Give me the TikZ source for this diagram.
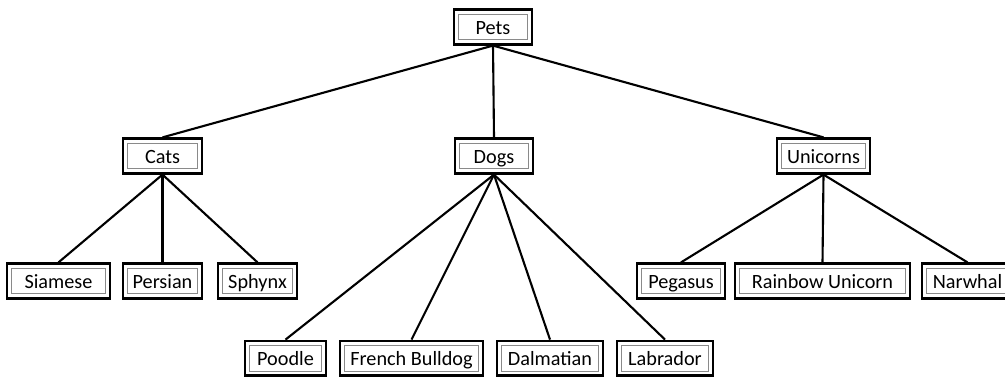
\documentclass[tikz,border=0pt]{standalone}
\usepackage{fontspec}
\setmainfont{Carlito}
\usetikzlibrary{positioning}
\definecolor{cInk}{HTML}{000000}
\definecolor{cRule}{HTML}{8A8A8A}
\tikzset{
  base/.style={rectangle, draw=cInk, line width=2pt, fill=white, align=center,
               font=\fontsize{14.4}{17}\selectfont, text=cInk, inner xsep=0pt,
               inner ysep=0pt, text height=0.43cm, text depth=0.05cm, minimum height=0.86cm,
               path picture={\draw[cRule, line width=0.7pt]
                 ([shift={(3pt,3pt)}]path picture bounding box.south west) rectangle
                 ([shift={(-3pt,-3pt)}]path picture bounding box.north east);}},
  link/.style={line width=1.5pt, draw=cInk},
}

\begin{document}
\begin{tikzpicture}[x=1cm, y=1cm]
  \useasboundingbox (0,0) rectangle (25.125,9.475);
  \clip (0,0) rectangle (25.125,9.475);
  % ---- root
  \node[base, minimum width=1.95cm] (pets) at (12.325,8.80) {Pets};

  % ---- groups
  \node[base, minimum width=1.975cm] (cats) at (4.0625,5.575) {Cats};
  \node[base, minimum width=1.95cm] (dogs) at (12.35,5.575) {Dogs};
  \node[base, minimum width=2.325cm] (unicorns) at (20.5875,5.575) {Unicorns};

  % ---- breeds
  \node[base, minimum width=2.575cm] (siamese) at (1.4625,2.45) {Siamese};
  \node[base, minimum width=1.975cm] (persian) at (4.0625,2.45) {Persian};
  \node[base, minimum width=1.975cm] (sphynx) at (6.4375,2.45) {Sphynx};
  \node[base, minimum width=2.2cm] (pegasus) at (17.025,2.45) {Pegasus};
  \node[base, minimum width=4.375cm] (rainbow) at (20.5625,2.45) {Rainbow Unicorn};
  \node[base, minimum width=2.275cm] (narwhal) at (24.1875,2.45) {Narwhal};
  \node[base, minimum width=2.025cm] (poodle) at (7.1375,0.52) {Poodle};
  \node[base, minimum width=3.575cm] (bulldog) at (10.2875,0.52) {French Bulldog};
  \node[base, minimum width=2.65cm] (dalmatian) at (13.75,0.52) {Dalmatian};
  \node[base, minimum width=2.4cm] (labrador) at (16.625,0.52) {Labrador};

  % ---- links
  \foreach \p/\c in {pets/cats, pets/dogs, pets/unicorns,
                     cats/siamese, cats/persian, cats/sphynx,
                     dogs/poodle, dogs/bulldog, dogs/dalmatian, dogs/labrador,
                     unicorns/pegasus, unicorns/rainbow, unicorns/narwhal}
    \draw[link] (\p.south) -- (\c.north);
\end{tikzpicture}
\end{document}
